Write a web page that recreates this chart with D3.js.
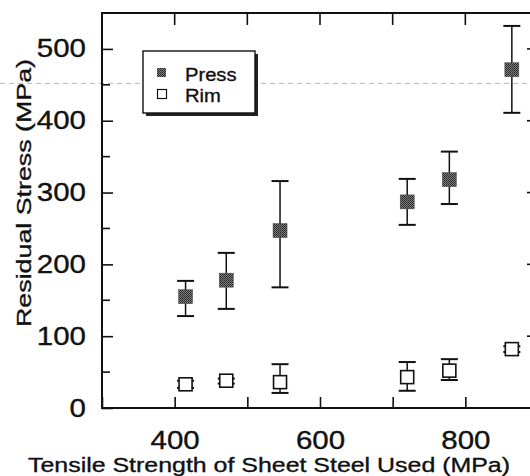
<!DOCTYPE html>
<html>
<head>
<meta charset="utf-8">
<script src="https://cdn.jsdelivr.net/npm/d3@7"></script>
<style>
  body { margin: 0; background: #fff; }
  svg { display: block; }
  text { font-family: "Liberation Sans", Arial, sans-serif; fill: #111; stroke: #111; stroke-width: 0.35px; }
</style>
</head>
<body>
<svg id="chart" width="530" height="476"></svg>
<script>
// tensile strength of the sheet steel (MPa)
const strength = [415, 471, 545, 720, 778, 864];
// residual stress, press formed parts
const pressMean = [155, 178, 247, 287, 318, 471];
const pressLow  = [128, 138, 168, 255, 284, 411];
const pressHigh = [177, 216, 316, 319, 357, 532];
// residual stress, rim
const rimMean = [33, 38, 36, 43, 52, 82];
const rimLow  = [28, 34, 21, 24, 39, 78];
const rimHigh = [38, 41, 61, 64, 68, 86];

const xTicks = [300, 400, 500, 600, 700, 800, 900];
const xLabels = [400, 600, 800];
const yTicks = [0, 100, 200, 300, 400, 500];
const yMinor = [50, 150, 250, 350, 450, 550];
const seriesNames = ["Press", "Rim"];

const svg = d3.select("#chart");
const x = d3.scaleLinear().domain([300, 900]).range([102, 538]);
const y = d3.scaleLinear().domain([0, 550]).range([408, 13]);

// halftone look for the filled markers
const defs = svg.append("defs");
const pat = defs.append("pattern").attr("id", "dots")
  .attr("width", 2).attr("height", 2).attr("patternUnits", "userSpaceOnUse");
pat.append("rect").attr("width", 2).attr("height", 2).attr("fill", "#7e7e7e");
pat.append("rect").attr("width", 1).attr("height", 1).attr("fill", "#222");
pat.append("rect").attr("x", 1).attr("y", 1).attr("width", 1).attr("height", 1).attr("fill", "#333");

// stretch text a bit horizontally like the scanned figure
function stretch(sel, k) {
  sel.each(function () {
    const w = this.getComputedTextLength();
    d3.select(this).attr("textLength", w * k).attr("lengthAdjust", "spacingAndGlyphs");
  });
}

// faint scan line
svg.append("line")
  .attr("x1", 0).attr("x2", 530).attr("y1", y(452)).attr("y2", y(452))
  .attr("stroke", "#9a9a9a").attr("stroke-width", 1)
  .attr("stroke-dasharray", "5,4").attr("opacity", 0.7);

// axes
const xAxis = svg.append("g").attr("transform", "translate(0,408)")
  .call(d3.axisBottom(x).tickValues(xTicks).tickSizeInner(-11).tickSizeOuter(0).tickPadding(23)
    .tickFormat(d => xLabels.includes(d) ? d : ""));
const yAxis = svg.append("g").attr("transform", "translate(102,0)")
  .call(d3.axisLeft(y).tickValues(yTicks).tickSizeInner(-11).tickSizeOuter(0).tickPadding(16));
[xAxis, yAxis].forEach(g => {
  g.select(".domain").remove();
  g.selectAll("line").attr("stroke", "#111").attr("stroke-width", 1.6);
  g.selectAll("text").style("font-size", "25px").attr("fill", "#111");
});
stretch(xAxis.selectAll("text"), 1.18);
stretch(yAxis.selectAll("text"), 1.18);

// mirrored ticks on top and right, minor y ticks
const tk = svg.append("g").attr("stroke", "#111").attr("stroke-width", 1.6);
tk.selectAll(".top").data(xTicks).join("line")
  .attr("x1", d => x(d)).attr("x2", d => x(d)).attr("y1", 13).attr("y2", 25);
tk.selectAll(".right").data(yTicks).join("line")
  .attr("x1", 538).attr("x2", 527).attr("y1", d => y(d)).attr("y2", d => y(d));
tk.selectAll(".minl").data(yMinor).join("line")
  .attr("x1", 102).attr("x2", 110).attr("y1", d => y(d)).attr("y2", d => y(d));
tk.selectAll(".minr").data(yMinor).join("line")
  .attr("x1", 538).attr("x2", 530).attr("y1", d => y(d)).attr("y2", d => y(d));

// frame
svg.append("rect")
  .attr("x", x(300)).attr("y", y(550))
  .attr("width", x(900) - x(300)).attr("height", y(0) - y(550))
  .attr("fill", "none").attr("stroke", "#111").attr("stroke-width", 2);

// axis titles
const xt = svg.append("text").attr("x", 269).attr("y", 472)
  .attr("text-anchor", "middle").style("font-size", "20.5px")
  .text("Tensile Strength of Sheet Steel Used (MPa)");
xt.attr("textLength", 482).attr("lengthAdjust", "spacingAndGlyphs");
const yt = svg.append("text").attr("transform", "translate(31,193) rotate(-90)")
  .attr("text-anchor", "middle").style("font-size", "21px")
  .text("Residual Stress (MPa)");
yt.attr("textLength", 268).attr("lengthAdjust", "spacingAndGlyphs");

// series
function drawSeries(mean, low, high, fill, size) {
  const g = svg.append("g");
  const pts = strength.map((s, i) => ({ s, m: mean[i], lo: low[i], hi: high[i] }));
  g.selectAll(".eb").data(pts).join("line")
    .attr("x1", d => x(d.s)).attr("x2", d => x(d.s))
    .attr("y1", d => y(d.lo)).attr("y2", d => y(d.hi))
    .attr("stroke", "#111").attr("stroke-width", 1.5);
  ["lo", "hi"].forEach(k => {
    g.selectAll(".cap" + k).data(pts).join("line")
      .attr("x1", d => x(d.s) - 8.5).attr("x2", d => x(d.s) + 8.5)
      .attr("y1", d => y(d[k])).attr("y2", d => y(d[k]))
      .attr("stroke", "#111").attr("stroke-width", 2);
  });
  g.selectAll(".mk").data(pts).join("rect")
    .attr("x", d => x(d.s) - size / 2).attr("y", d => y(d.m) - size / 2)
    .attr("width", size).attr("height", size)
    .attr("fill", fill)
    .attr("stroke", fill === "#fff" ? "#111" : "#444")
    .attr("stroke-width", fill === "#fff" ? 1.6 : 0.5);
}
drawSeries(pressMean, pressLow, pressHigh, "url(#dots)", 14);
drawSeries(rimMean, rimLow, rimHigh, "#fff", 13);

// legend
const lg = svg.append("g");
lg.append("rect").attr("x", 146).attr("y", 54).attr("width", 112).attr("height", 62).attr("fill", "#222");
lg.append("rect").attr("x", 143).attr("y", 51).attr("width", 112).attr("height", 62)
  .attr("fill", "#fff").attr("stroke", "#111").attr("stroke-width", 1.4);
lg.append("rect").attr("x", 157).attr("y", 68).attr("width", 9).attr("height", 9).attr("fill", "url(#dots)");
lg.append("rect").attr("x", 157.5).attr("y", 89.5).attr("width", 9).attr("height", 9)
  .attr("fill", "#fff").attr("stroke", "#111").attr("stroke-width", 1.2);
const lt = lg.selectAll(".lt").data(seriesNames).join("text")
  .attr("x", 185).attr("y", (d, i) => 81 + i * 21)
  .style("font-size", "18px").text(d => d);
stretch(lt, 1.12);
</script>
</body>
</html>
